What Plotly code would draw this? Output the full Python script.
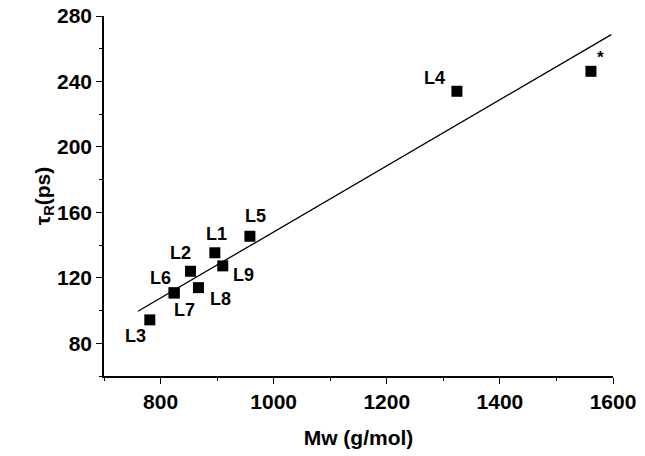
import plotly.graph_objects as go

# Data
labels = ["L1", "L2", "L3", "L4", "L5", "L6", "L7", "L8", "L9", "*"]
mw = [896, 853, 781, 1324, 958, 824, 824, 867, 910, 1561]
tau = [135.3, 124, 94.3, 234, 145.4, 110.8, 110.8, 114, 127.3, 246.2]

# Linear fit line endpoints
fit_x = [760, 1597]
fit_y = [99.6, 268.6]

# Label offsets in pixels (x right, y up)
label_dx = [2, -10, -14, -22, 6, -14, 10, 22, 21, 10]
label_dy = [19, 18, -16, 13, 20, 15, -17, -11, -9, 14]

font_family = "Liberation Sans, Arial, sans-serif"

fig = go.Figure()
fig.add_trace(go.Scatter(
    x=fit_x, y=fit_y, mode="lines",
    line=dict(color="black", width=1.3),
    showlegend=False, hoverinfo="skip"))
fig.add_trace(go.Scatter(
    x=mw, y=tau, mode="markers",
    marker=dict(symbol="square", size=11, color="black"),
    showlegend=False, cliponaxis=False))

for lab, x, y, dx, dy in zip(labels, mw, tau, label_dx, label_dy):
    fig.add_annotation(
        x=x, y=y, xref="x", yref="y", text=lab, showarrow=False,
        xshift=dx, yshift=dy, xanchor="center", yanchor="middle",
        font=dict(family=font_family, size=18 if lab != "*" else 17,
                  color="black", weight="bold"))

axis_common = dict(
    showgrid=False, zeroline=False, showline=True, linecolor="black",
    linewidth=1.5, ticks="outside", ticklen=6, tickwidth=1.3,
    tickcolor="black", mirror=False, automargin=False,
    tickfont=dict(family=font_family, size=21, color="black", weight="bold"),
)

fig.update_xaxes(
    range=[700, 1600], tick0=0, dtick=200,
    minor=dict(ticks="outside", ticklen=3, tickwidth=1.2, tickcolor="black", dtick=100, tick0=0),
    title=dict(text="Mw (g/mol)", standoff=18,
               font=dict(family=font_family, size=21, color="black", weight="bold")),
    **axis_common)
fig.update_yaxes(
    range=[60, 280], tick0=0, dtick=40,
    minor=dict(ticks="outside", ticklen=3, tickwidth=1.2, tickcolor="black", dtick=20, tick0=0),
    title=dict(text="τ<sub>R</sub>(ps)", standoff=0,
               font=dict(family=font_family, size=21, color="black", weight="bold")),
    **axis_common)

fig.update_layout(
    width=645, height=456,
    margin=dict(l=104, r=32, t=16, b=80, autoexpand=False),
    plot_bgcolor="white", paper_bgcolor="white",
)

post = (
    "document.body.style.margin='0';"
    "var d=document.getElementById('{plot_id}');"
    "d.style.position='absolute';d.style.left='0px';d.style.top='0px';"
)
fig.write_html("out.html", post_script=post, config={"displayModeBar": False})
